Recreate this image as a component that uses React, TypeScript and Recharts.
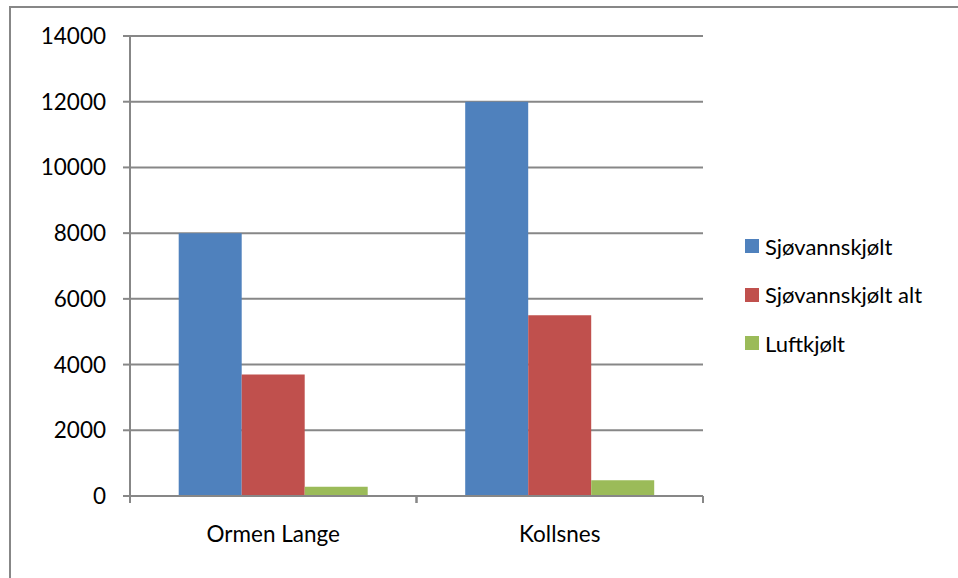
import React from 'react';
import { BarChart, Bar, XAxis, YAxis, CartesianGrid } from 'recharts';

const categories = ['Ormen Lange', 'Kollsnes'];
const sjovannskjolt = [8000, 12000];
const sjovannskjoltAlt = [3700, 5500];
const luftkjolt = [280, 480];
const yTicks = [0, 2000, 4000, 6000, 8000, 10000, 12000, 14000];

const SERIES = [
  { key: 'sjo', name: 'Sjøvannskjølt', color: '#4F81BD' },
  { key: 'sjoAlt', name: 'Sjøvannskjølt alt', color: '#C0504D' },
  { key: 'luft', name: 'Luftkjølt', color: '#9BBB59' },
];

const chartData = categories.map((cat, i) => ({
  cat,
  sjo: sjovannskjolt[i],
  sjoAlt: sjovannskjoltAlt[i],
  luft: luftkjolt[i],
}));

const FONT = 'Lato, "Noto Sans", sans-serif';
const AXIS = '#878787';
const PLOT_LEFT = 130;
const PLOT_RIGHT = 703;
const HALF_BAND = (PLOT_RIGHT - PLOT_LEFT) / categories.length / 2;

const CategoryTick = ({ x, y, payload }: any) => (
  <g>
    <line x1={x - HALF_BAND} x2={x - HALF_BAND} y1={y - 7} y2={y} stroke={AXIS} strokeWidth={2} />
    <line x1={x + HALF_BAND} x2={x + HALF_BAND} y1={y - 7} y2={y} stroke={AXIS} strokeWidth={2} />
    <text x={x} y={y + 39} textAnchor="middle" fill="#000" fontSize={22.5} fontFamily={FONT}>
      {payload.value}
    </text>
  </g>
);

// legend sits to the right of the plot, outside the svg
const ChartLegend = () => (
  <div style={{ position: 'absolute', left: 745, top: 222, fontFamily: FONT, fontSize: 22, color: '#000' }}>
    {SERIES.map((s) => (
      <div key={s.key} style={{ display: 'flex', alignItems: 'center', height: 48.5 }}>
        <span style={{ width: 14, height: 14, background: s.color, marginRight: 6, display: 'inline-block' }} />
        <span>{s.name}</span>
      </div>
    ))}
  </div>
);

export default function App() {
  return (
    <div style={{ position: 'absolute', left: 0, top: 0, width: 958, height: 578, overflow: 'hidden', background: '#fff' }}>
      <div
        style={{
          position: 'absolute',
          left: 9,
          top: 6,
          width: 1000,
          height: 1000,
          border: `2px solid ${AXIS}`,
        }}
      />
      <div style={{ position: 'absolute', left: 0, top: 0 }}>
        <BarChart
          width={958}
          height={578}
          data={chartData}
          margin={{ top: 36, right: 958 - PLOT_RIGHT, left: 0, bottom: 0 }}
          barGap={0}
          barCategoryGap="17%"
        >
          <CartesianGrid vertical={false} stroke={AXIS} strokeWidth={2} />
          <XAxis
            dataKey="cat"
            height={82}
            axisLine={{ stroke: AXIS, strokeWidth: 2 }}
            tickLine={false}
            tickSize={7}
            tickMargin={0}
            tick={<CategoryTick />}
            interval={0}
          />
          <YAxis
            width={PLOT_LEFT}
            domain={[0, 14000]}
            ticks={yTicks}
            interval={0}
            axisLine={{ stroke: AXIS, strokeWidth: 2 }}
            tickLine={{ stroke: AXIS, strokeWidth: 2 }}
            tickSize={7}
            tickMargin={17}
            tick={{ fill: '#000', fontSize: 22.5, fontFamily: FONT }}
          />
          {SERIES.map((s) => (
            <Bar key={s.key} dataKey={s.key} name={s.name} fill={s.color} isAnimationActive={false} />
          ))}
        </BarChart>
      </div>
      <ChartLegend />
    </div>
  );
}
